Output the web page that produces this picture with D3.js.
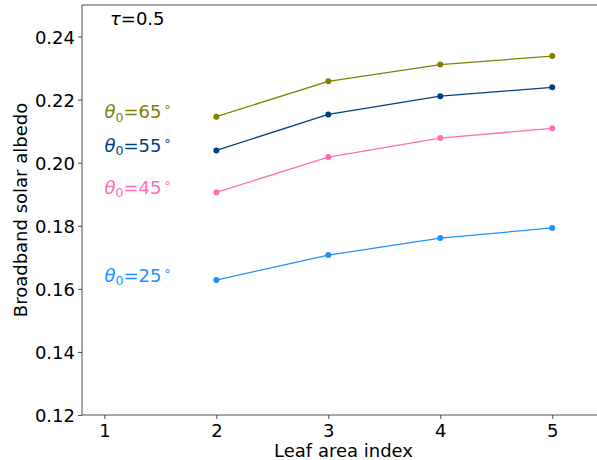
<!DOCTYPE html>
<html><head><meta charset="utf-8">
<script src="https://cdn.jsdelivr.net/npm/d3@7"></script>
<style>body{margin:0;background:#fff}svg{display:block}text{font-family:"DejaVu Sans",sans-serif}</style>
</head><body><svg id="c" width="597" height="460"></svg>
<script>
const lai = [2, 3, 4, 5];
const angles = [65, 55, 45, 25];
const colors = ["#808000", "#00407f", "#ff6eb4", "#1e90ff"];
const albedo65 = [0.2146, 0.2258, 0.2311, 0.2338];
const albedo55 = [0.2039, 0.2153, 0.2211, 0.2239];
const albedo45 = [0.1906, 0.2018, 0.2078, 0.2109];
const albedo25 = [0.1628, 0.1707, 0.1761, 0.1793];
const xTicks = [1, 2, 3, 4, 5];
const yTicks = [0.12, 0.14, 0.16, 0.18, 0.20, 0.22, 0.24];
const series = [albedo65, albedo55, albedo45, albedo25];

const FS = 18, SUB = 12.6;
const svg = d3.select("#c");
const L = 82, T = 5, R = 597, B = 415;
const x = d3.scaleLinear().domain([0.8, 5.4]).range([L, R]);
const y = d3.scaleLinear().domain([0.12, 0.25]).range([B, T]);

// axes
const xa = svg.append("g").attr("transform", `translate(0,${B})`)
  .call(d3.axisBottom(x).tickValues(xTicks).tickFormat(d3.format("d")).tickSize(4).tickPadding(4));
const ya = svg.append("g").attr("transform", `translate(${L},0)`)
  .call(d3.axisLeft(y).tickValues(yTicks).tickFormat(d3.format(".2f")).tickSize(4).tickPadding(3));
[xa, ya].forEach(a => {
  a.selectAll(".domain").remove();
  a.selectAll("line").attr("stroke", "#222").attr("stroke-width", 0.8);
  a.selectAll("text").attr("font-size", FS).attr("fill", "#000").attr("font-family", "DejaVu Sans");
});
ya.selectAll("text").attr("dy", "0.36em");
xa.selectAll("text").attr("dy", "0.76em");
// spines
svg.append("line").attr("x1", L).attr("x2", L).attr("y1", T).attr("y2", B).attr("stroke", "#222").attr("stroke-width", 0.8);
svg.append("line").attr("x1", L).attr("x2", R).attr("y1", B).attr("y2", B).attr("stroke", "#222").attr("stroke-width", 0.8);
svg.append("line").attr("x1", L).attr("x2", R).attr("y1", T).attr("y2", T).attr("stroke", "#222").attr("stroke-width", 0.8);

// labels
svg.append("text").attr("x", (L + R) / 2 + 4).attr("y", 457).attr("text-anchor", "middle")
  .attr("font-size", FS).text("Leaf area index");
svg.append("text").attr("transform", `translate(27,${(T + B) / 2}) rotate(-90)`).attr("text-anchor", "middle")
  .attr("font-size", FS).text("Broadband solar albedo");

// series
const line = d3.line().x((d, i) => x(lai[i])).y(d => y(d));
series.forEach((s, k) => {
  svg.append("path").datum(s).attr("d", line).attr("fill", "none")
    .attr("stroke", colors[k]).attr("stroke-width", 1.3);
  svg.selectAll(null).data(s).enter().append("circle")
    .attr("cx", (d, i) => x(lai[i])).attr("cy", d => y(d)).attr("r", 3).attr("fill", colors[k]);
  const t = svg.append("text").attr("x", x(1)).attr("y", y(s[0]) + 1.5).attr("fill", colors[k]).attr("font-size", FS);
  t.append("tspan").attr("font-style", "italic").text("θ");
  t.append("tspan").attr("font-size", SUB).attr("dy", 3.5).text("0");
  t.append("tspan").attr("dy", -3.5).text("=" + angles[k]);
  t.append("tspan").attr("font-size", SUB).attr("dy", -7).attr("dx", 2).text("∘");
});

// tau annotation
const ta = svg.append("text").attr("x", x(1.05)).attr("y", y(0.2436)).attr("font-size", FS).attr("fill", "#000");
ta.append("tspan").attr("font-style", "italic").text("τ");
ta.append("tspan").text("=0.5");
</script></body></html>
